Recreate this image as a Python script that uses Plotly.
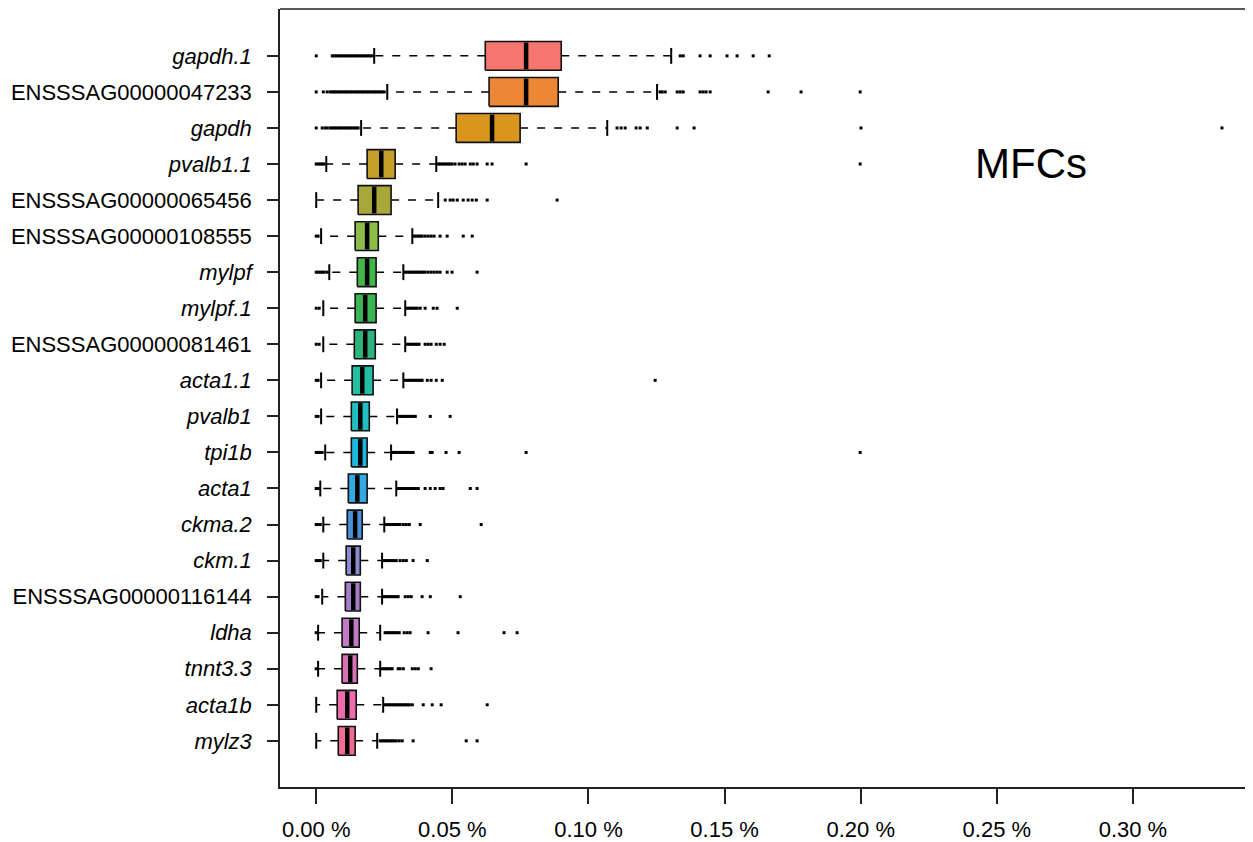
import plotly.graph_objects as go

# ---------------- data (values in % of total counts) ----------------
genes = ["gapdh.1", "ENSSSAG00000047233", "gapdh", "pvalb1.1", "ENSSSAG00000065456",
         "ENSSSAG00000108555", "mylpf", "mylpf.1", "ENSSSAG00000081461", "acta1.1",
         "pvalb1", "tpi1b", "acta1", "ckma.2", "ckm.1", "ENSSSAG00000116144",
         "ldha", "tnnt3.3", "acta1b", "mylz3"]

lower_whisker = [0.0213, 0.0261, 0.0165, 0.0037, 0.0000, 0.0018, 0.0048, 0.0026, 0.0026, 0.0018,
                 0.0018, 0.0033, 0.0015, 0.0026, 0.0026, 0.0022, 0.0007, 0.0007, 0.0000, 0.0000]
q1 = [0.0621, 0.0635, 0.0514, 0.0187, 0.0154, 0.0143, 0.0151, 0.0143, 0.0140, 0.0132,
      0.0129, 0.0129, 0.0118, 0.0114, 0.0110, 0.0107, 0.0095, 0.0095, 0.0077, 0.0081]
median = [0.0771, 0.0771, 0.0646, 0.0239, 0.0213, 0.0187, 0.0187, 0.0180, 0.0180, 0.0169,
          0.0162, 0.0162, 0.0151, 0.0143, 0.0136, 0.0136, 0.0129, 0.0125, 0.0114, 0.0114]
q3 = [0.0900, 0.0889, 0.0749, 0.0290, 0.0275, 0.0228, 0.0220, 0.0220, 0.0217, 0.0209,
      0.0195, 0.0187, 0.0187, 0.0169, 0.0162, 0.0162, 0.0158, 0.0151, 0.0147, 0.0143]
upper_whisker = [0.1304, 0.1252, 0.1069, 0.0441, 0.0448, 0.0353, 0.0320, 0.0327, 0.0327, 0.0320,
                 0.0297, 0.0275, 0.0294, 0.0250, 0.0242, 0.0242, 0.0235, 0.0235, 0.0246, 0.0224]

outliers = [
    # gapdh.1
    [0.0, 0.0059, 0.0066, 0.0073, 0.0081, 0.0088, 0.0095, 0.0103, 0.0110, 0.0117, 0.0125,
     0.0132, 0.0140, 0.0147, 0.0154, 0.0162, 0.0169, 0.0176, 0.0184, 0.0191, 0.0198, 0.0206,
     0.1337, 0.1348, 0.1410, 0.1447, 0.1509, 0.1546, 0.1605, 0.1664],
    # ENSSSAG00000047233
    [0.0, 0.0026, 0.0040, 0.0051, 0.0059, 0.0066, 0.0073, 0.0081, 0.0088, 0.0095, 0.0103,
     0.0110, 0.0117, 0.0125, 0.0132, 0.0140, 0.0147, 0.0154, 0.0162, 0.0169, 0.0176, 0.0184,
     0.0191, 0.0198, 0.0206, 0.0213, 0.0220, 0.0228, 0.0235, 0.0242, 0.0250,
     0.1263, 0.1271, 0.1282, 0.1326, 0.1337, 0.1348, 0.1410, 0.1421, 0.1432, 0.1447,
     0.1660, 0.1781, 0.1998],
    # gapdh
    [0.0, 0.0022, 0.0033, 0.0040, 0.0051, 0.0059, 0.0066, 0.0073, 0.0081, 0.0088, 0.0095,
     0.0103, 0.0110, 0.0117, 0.0125, 0.0132, 0.0140, 0.0147, 0.0154,
     0.1105, 0.1120, 0.1135, 0.1175, 0.1190, 0.1216, 0.1326, 0.1388, 0.2001, 0.3327],
    # pvalb1.1
    [0.0, 0.0007, 0.0015, 0.0022, 0.0029,
     0.0448, 0.0455, 0.0463, 0.0470, 0.0477, 0.0485, 0.0492, 0.0499, 0.0510, 0.0525,
     0.0536, 0.0547, 0.0566, 0.0577, 0.0591, 0.0628, 0.0646, 0.0771, 0.1998],
    # ENSSSAG00000065456
    [0.0474, 0.0492, 0.0503, 0.0518, 0.0540, 0.0558, 0.0573, 0.0588, 0.0628, 0.0885],
    # ENSSSAG00000108555
    [0.0, 0.0007, 0.0360, 0.0367, 0.0375, 0.0382, 0.0389, 0.0400, 0.0411, 0.0422, 0.0433,
     0.0455, 0.0481, 0.0540, 0.0573],
    # mylpf
    [0.0, 0.0007, 0.0015, 0.0022, 0.0029, 0.0040,
     0.0327, 0.0334, 0.0342, 0.0349, 0.0356, 0.0364, 0.0371, 0.0378, 0.0386, 0.0393, 0.0400,
     0.0411, 0.0422, 0.0433, 0.0444, 0.0455, 0.0481, 0.0499, 0.0591],
    # mylpf.1
    [0.0, 0.0011, 0.0334, 0.0342, 0.0349, 0.0356, 0.0364, 0.0371, 0.0382, 0.0400, 0.0430,
     0.0444, 0.0518],
    # ENSSSAG00000081461
    [0.0, 0.0011, 0.0334, 0.0342, 0.0349, 0.0356, 0.0364, 0.0371, 0.0378, 0.0400, 0.0411,
     0.0422, 0.0441, 0.0455, 0.0470],
    # acta1.1
    [0.0, 0.0007, 0.0327, 0.0334, 0.0342, 0.0349, 0.0356, 0.0364, 0.0371, 0.0378, 0.0386,
     0.0389, 0.0408, 0.0422, 0.0441, 0.0463, 0.1245],
    # pvalb1
    [0.0, 0.0007, 0.0305, 0.0312, 0.0320, 0.0327, 0.0334, 0.0342, 0.0349, 0.0356, 0.0364,
     0.0419, 0.0492],
    # tpi1b
    [0.0, 0.0007, 0.0015, 0.0022, 0.0283, 0.0290, 0.0297, 0.0305, 0.0312, 0.0320, 0.0327,
     0.0334, 0.0342, 0.0349, 0.0356, 0.0419, 0.0426, 0.0477, 0.0525, 0.0771, 0.1998],
    # acta1
    [0.0, 0.0007, 0.0301, 0.0309, 0.0316, 0.0323, 0.0331, 0.0338, 0.0345, 0.0353, 0.0360,
     0.0367, 0.0375, 0.0400, 0.0419, 0.0437, 0.0455, 0.0466, 0.0566, 0.0591],
    # ckma.2
    [0.0, 0.0007, 0.0015, 0.0257, 0.0264, 0.0272, 0.0279, 0.0286, 0.0294, 0.0301, 0.0308,
     0.0320, 0.0331, 0.0342, 0.0382, 0.0606],
    # ckm.1
    [0.0, 0.0007, 0.0015, 0.0250, 0.0257, 0.0264, 0.0272, 0.0279, 0.0286, 0.0294, 0.0308,
     0.0320, 0.0331, 0.0356, 0.0408],
    # ENSSSAG00000116144
    [0.0, 0.0007, 0.0250, 0.0257, 0.0264, 0.0272, 0.0279, 0.0286, 0.0294, 0.0301, 0.0327,
     0.0338, 0.0349, 0.0389, 0.0419, 0.0529],
    # ldha
    [0.0, 0.0253, 0.0261, 0.0268, 0.0275, 0.0283, 0.0290, 0.0297, 0.0305, 0.0323, 0.0334,
     0.0345, 0.0411, 0.0521, 0.0690, 0.0738],
    # tnnt3.3
    [0.0, 0.0242, 0.0250, 0.0257, 0.0264, 0.0272, 0.0279, 0.0301, 0.0308, 0.0320, 0.0353,
     0.0364, 0.0375, 0.0422],
    # acta1b
    [0.0253, 0.0261, 0.0268, 0.0275, 0.0283, 0.0290, 0.0297, 0.0305, 0.0312, 0.0320, 0.0327,
     0.0334, 0.0342, 0.0353, 0.0393, 0.0426, 0.0459, 0.0628],
    # mylz3
    [0.0235, 0.0242, 0.0250, 0.0257, 0.0264, 0.0272, 0.0279, 0.0286, 0.0294, 0.0305, 0.0316,
     0.0356, 0.0551, 0.0591],
]

colors = ["#F5766E", "#EC8735", "#D8961F", "#C4A02A", "#A7A73A", "#8DBC48", "#42B648",
          "#3BB652", "#2DB47C", "#22BEA2", "#22BEC2", "#1EB6DA", "#33A8E2", "#4A92D8",
          "#8A8BD2", "#A67DC8", "#C07BC2", "#D872B8", "#EE6BAF", "#F06C92"]

tick_values = [0.00, 0.05, 0.10, 0.15, 0.20, 0.25, 0.30]
tick_labels = ["0.00 %", "0.05 %", "0.10 %", "0.15 %", "0.20 %", "0.25 %", "0.30 %"]
panel_label = "MFCs"

# ---------------- figure ----------------
n = len(genes)
ypos = [n - i for i in range(n)]
half_box = 0.4
half_staple = 0.22

fig = go.Figure()

# whiskers (dashed)
wx, wy = [], []
for i in range(n):
    wx += [q1[i], lower_whisker[i], None, q3[i], upper_whisker[i], None]
    wy += [ypos[i], ypos[i], None, ypos[i], ypos[i], None]
fig.add_trace(go.Scatter(x=wx, y=wy, mode="lines",
                         line=dict(color="black", width=1.5, dash="8px,9px"),
                         hoverinfo="skip"))

# staples
sx, sy = [], []
for i in range(n):
    for v in (lower_whisker[i], upper_whisker[i]):
        sx += [v, v, None]
        sy += [ypos[i] - half_staple, ypos[i] + half_staple, None]
fig.add_trace(go.Scatter(x=sx, y=sy, mode="lines",
                         line=dict(color="black", width=2), hoverinfo="skip"))

# outliers
ox, oy = [], []
for i in range(n):
    ox += outliers[i]
    oy += [ypos[i]] * len(outliers[i])
fig.add_trace(go.Scatter(x=ox, y=oy, mode="markers",
                         marker=dict(color="black", size=3, symbol="square",
                                     line=dict(width=0)),
                         hoverinfo="skip"))

# boxes
for i in range(n):
    y0, y1 = ypos[i] - half_box, ypos[i] + half_box
    fig.add_trace(go.Scatter(x=[q1[i], q3[i], q3[i], q1[i], q1[i]],
                             y=[y0, y0, y1, y1, y0],
                             mode="lines", fill="toself", fillcolor=colors[i],
                             line=dict(color="#111111", width=1.6),
                             hoverinfo="skip"))
    fig.add_trace(go.Scatter(x=[median[i], median[i]], y=[y0 + 0.03, y1 - 0.03],
                             mode="lines", line=dict(color="black", width=4.5),
                             hoverinfo="skip"))

ticktext_y = [g if g.startswith("ENSSSAG") else "<i>" + g + "</i>" for g in genes]

# the page body adds an 8px offset, so the figure is sized to fit the window
fig.update_layout(
    width=1245, height=835,
    margin=dict(l=272, r=0, t=1, b=56, autoexpand=False),
    plot_bgcolor="white", paper_bgcolor="white",
    showlegend=False,
    xaxis=dict(range=[-0.0133, 0.3441], tickvals=tick_values, ticktext=tick_labels,
               ticks="outside", ticklen=15, tickwidth=1.5, tickcolor="#222222",
               showgrid=False, zeroline=False, showline=True, linecolor="#222222",
               linewidth=1.5, ticklabelstandoff=7, automargin=False,
               tickfont=dict(family="Liberation Sans, Arial", size=22, color="black")),
    yaxis=dict(range=[-0.28, 21.3], tickvals=ypos, ticktext=ticktext_y,
               ticks="outside", ticklen=11, tickwidth=1.5, tickcolor="#222222",
               showgrid=False, zeroline=False, showline=True, linecolor="#222222",
               linewidth=1.5, ticklabelstandoff=11, automargin=False,
               tickfont=dict(family="Liberation Sans, Arial", size=22, color="black")),
    shapes=[dict(type="line", xref="paper", yref="paper", x0=0, x1=1, y0=1, y1=1,
                 line=dict(color="#222222", width=1.5))],
    annotations=[dict(text=panel_label, xref="paper", yref="paper", x=0.772, y=0.802,
                      showarrow=False, xanchor="center", yanchor="middle",
                      font=dict(family="Liberation Sans, Arial", size=42, color="black"))],
)

fig.write_html("out.html")
